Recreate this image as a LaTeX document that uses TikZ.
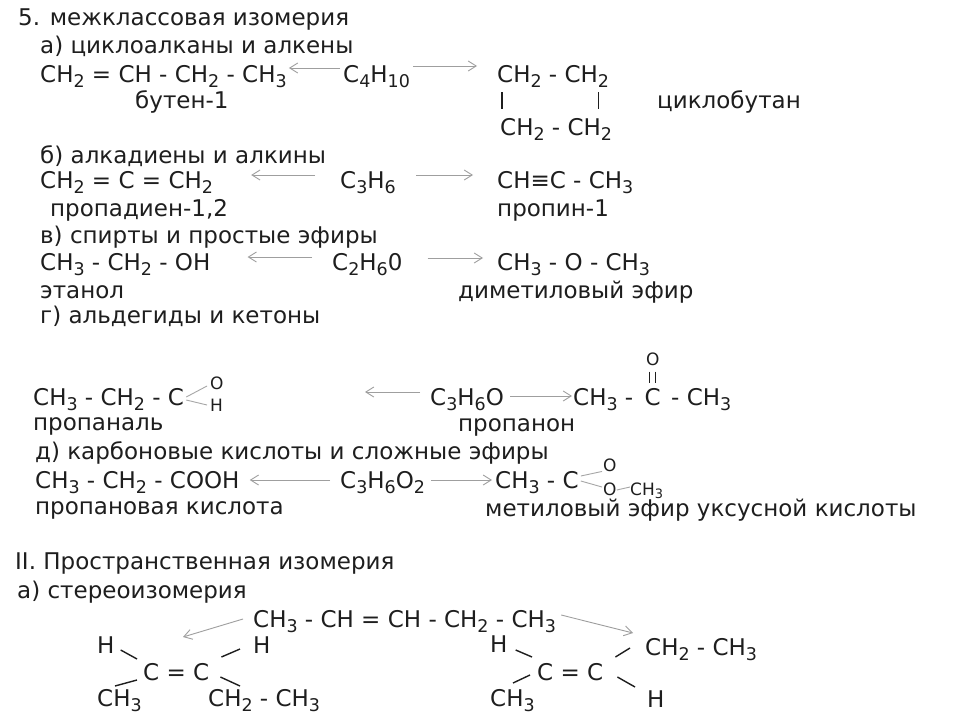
\documentclass[tikz,border=0pt]{standalone}
\usepackage{fontspec}
\setmainfont{DejaVu Sans}
\usetikzlibrary{arrows.meta,positioning}
\definecolor{ink}{HTML}{1E1E1E}
\newcommand{\dn}[1]{\raisebox{-0.23em}{\scalebox{0.76}{#1}}}

\begin{document}
\begin{tikzpicture}[x=1pt,y=-1pt,
		txt/.style={anchor=base west, inner sep=0pt, text=ink, font=\fontsize{23}{27}\selectfont},
		sm/.style={txt, font=\fontsize{17}{20}\selectfont},
		arr/.style={draw=gray!75, line width=0.9pt, -{Straight Barb[length=8pt,width=10pt]}},
		bond/.style={draw=ink, line width=1.4pt}]

	\fill[white] (0,0) rectangle (960,720);
	\useasboundingbox (0,0) rectangle (960,720);

	\node[txt] (hdr) at (18,25) {5. межклассовая изомерия};
	\node[txt] (seca) at (40,53) {а) циклоалканы и алкены};
	\node[txt] (butf) at (40,82) {CH\dn{2} = CH - CH\dn{2} - CH\dn{3}};
	\node[txt] (c4h10) at (343,82) {C\dn{4}H\dn{10}};
	\node[txt] (cb1) at (497,82) {CH\dn{2} - CH\dn{2}};
	\node[txt] (cb2) at (500,135) {CH\dn{2} - CH\dn{2}};
	\node[txt] (butn) at (135,108) {бутен-1};
	\node[txt] (cbn) at (657,108) {циклобутан};

	\draw[arr] ([xshift=-3pt,yshift=14pt]c4h10.base west) -- ([xshift=2pt,yshift=14pt]butf.base east);
	\draw[arr] ([xshift=3pt,yshift=16pt]c4h10.base east) -- ([xshift=-20pt,yshift=16pt]cb1.base west);
	\draw[bond, line width=1.1pt, shorten <=5pt, shorten >=9pt] ([xshift=5pt]cb1.south west) -- ([xshift=5pt]cb1.south west |- cb2.north);
	\draw[bond, line width=1.1pt, shorten <=5pt, shorten >=9pt] ([xshift=-11pt]cb1.south east) -- ([xshift=-11pt]cb1.south east |- cb2.north);

	\node[txt] (secb) at (40,163) {б) алкадиены и алкины};
	\node[txt] (pdf) at (40,188) {CH\dn{2} = C = CH\dn{2}};
	\node[txt] (c3h6) at (340,188) {C\dn{3}H\dn{6}};
	\node[txt] (pyf) at (497,188) {CH≡C - CH\dn{3}};
	\node[txt] (pdn) at (50,216) {пропадиен-1,2};
	\node[txt] (pyn) at (497,216) {пропин-1};

	\draw[arr] ([xshift=-25pt,yshift=13pt]c3h6.base west) -- ([xshift=38pt,yshift=13pt]pdf.base east);
	\draw[arr] ([xshift=20pt,yshift=13pt]c3h6.base east) -- ([xshift=-24pt,yshift=13pt]pyf.base west);

	\node[txt] (secv) at (40,243) {в) спирты и простые эфиры};
	\node[txt] (etf) at (40,270) {CH\dn{3} - CH\dn{2} - OH};
	\node[txt] (c2h6o) at (332,270) {C\dn{2}H\dn{6}0};
	\node[txt] (dmf) at (497,270) {CH\dn{3} - O - CH\dn{3}};
	\node[txt] (etn) at (40,298) {этанол};
	\node[txt] (dmn) at (458,298) {диметиловый эфир};

	\draw[arr] ([xshift=-20pt,yshift=13pt]c2h6o.base west) -- ([xshift=37pt,yshift=13pt]etf.base east);
	\draw[arr] ([xshift=25pt,yshift=12pt]c2h6o.base east) -- ([xshift=-14pt,yshift=12pt]dmf.base west);

	\node[txt] (secg) at (40,323) {г) альдегиды и кетоны};
	\node[txt] (alf) at (33,405) {CH\dn{3} - CH\dn{2} - C};
	\node[sm] (alo) at (210,389) {O};
	\node[sm] (alh) at (210,411) {H};
	\node[txt] (c3h6o) at (430,405) {C\dn{3}H\dn{6}O};
	\node[txt] (ketl) at (573,405) {CH\dn{3} -};
	\node[txt] (ketc) [base right=11pt of ketl] {C};
	\node[txt] (ketr) [base right=10pt of ketc] {- CH\dn{3}};
	\node[sm, anchor=south] (keto) [above=22pt of ketc] {O};
	\node[txt] (aln) at (33,430) {пропаналь};
	\node[txt] (ktn) at (458,431) {пропанон};
	\coordinate (alend) at (365,392);

	\draw[bond, draw=gray!70, line width=0.9pt] ([xshift=2pt,yshift=8pt]alf.base east) -- ([xshift=-3pt,yshift=3pt]alo.base west);
	\draw[bond, draw=gray!70, line width=0.9pt] ([xshift=2pt,yshift=5pt]alf.base east) -- ([xshift=-3pt,yshift=6pt]alh.base west);
	\draw[bond, line width=1.1pt, shorten <=6pt, shorten >=5pt] ([xshift=-3pt]keto.south) -- ([xshift=-3pt]ketc.north);
	\draw[bond, line width=1.1pt, shorten <=6pt, shorten >=5pt] ([xshift=3pt]keto.south) -- ([xshift=3pt]ketc.north);
	\draw[arr] ([xshift=-10pt,yshift=13pt]c3h6o.base west) -- (alend);
	\draw[arr] ([xshift=6pt,yshift=9pt]c3h6o.base east) -- ([xshift=-1pt,yshift=9pt]ketl.base west);

	\node[txt] (secd) at (35,459) {д) карбоновые кислоты и сложные эфиры};
	\node[txt] (acf) at (35,488) {CH\dn{3} - CH\dn{2} - COOH};
	\node[txt] (c3h6o2) at (340,488) {C\dn{3}H\dn{6}O\dn{2}};
	\node[txt] (esf) at (495,488) {CH\dn{3} - C};
	\node[sm] (eso1) at (603,471) {O};
	\node[sm] (eso2) at (603,495) {O};
	\node[sm] (esme) at (630,495) {CH\dn{3}};
	\node[txt] (acn) at (35,514) {пропановая кислота};
	\node[txt] (esn) at (485,516) {метиловый эфир уксусной кислоты};

	\draw[arr] ([xshift=-10pt,yshift=8pt]c3h6o2.base west) -- ([xshift=10pt,yshift=8pt]acf.base east);
	\draw[arr] ([xshift=6pt,yshift=8pt]c3h6o2.base east) -- ([xshift=-3pt,yshift=8pt]esf.base west);
	\draw[bond, draw=gray!70, line width=0.9pt] ([xshift=2pt,yshift=12pt]esf.base east) -- ([xshift=-1pt]eso1.south west);
	\draw[bond, draw=gray!70, line width=0.9pt] ([xshift=2pt,yshift=7pt]esf.base east) -- ([xshift=-1pt,yshift=8pt]eso2.base west);
	\draw[bond, draw=gray!70, line width=0.9pt] ([yshift=5pt]eso2.base east) -- ([yshift=8pt]esme.base west);

	\node[txt] (secii) at (15,569) {II. Пространственная изомерия};
	\node[txt] (secs) at (17,598) {а) стереоизомерия};
	\node[txt] (ptf) at (253,627) {CH\dn{3} - CH = CH - CH\dn{2} - CH\dn{3}};
	\coordinate (cisend) at (183,637);
	\coordinate (trend) at (633,633);

	\draw[arr] ([xshift=-10pt,yshift=8pt]ptf.base west) -- (cisend);
	\draw[arr] ([xshift=5pt,yshift=12pt]ptf.base east) -- (trend);

	\node[txt] (lh1) at (97,653) {H};
	\node[txt] (lh2) at (253,653) {H};
	\node[txt] (lcc) at (143,680) {C = C};
	\node[txt] (lme) at (97,706) {CH\dn{3}};
	\node[txt] (let) at (208,706) {CH\dn{2} - CH\dn{3}};

	\draw[bond] ([xshift=6pt,yshift=3pt]lh1.base east) -- ([xshift=-6pt,yshift=21pt]lcc.base west);
	\draw[bond] ([xshift=12pt,yshift=23pt]lcc.base east) -- ([xshift=-13pt,yshift=4pt]lh2.base west);
	\draw[bond] ([xshift=18pt,yshift=20pt]lme.base west) -- ([xshift=-6pt]lcc.base west);
	\draw[bond] ([xshift=11pt,yshift=3pt]lcc.base east) -- ([xshift=32pt,yshift=20pt]let.base west);

	\node[txt] (rh1) at (490,652) {H};
	\node[txt] (rcc) at (537,680) {C = C};
	\node[txt] (ret) at (645,655) {CH\dn{2} - CH\dn{3}};
	\node[txt] (rme) at (490,706) {CH\dn{3}};
	\node[txt] (rh2) at (647,707) {H};

	\draw[bond] ([xshift=8pt,yshift=2pt]rh1.base east) -- ([xshift=-5pt,yshift=23pt]rcc.base west);
	\draw[bond] ([xshift=12pt,yshift=23pt]rcc.base east) -- ([xshift=-15pt,yshift=7pt]ret.base west);
	\draw[bond] ([xshift=23pt,yshift=23pt]rme.base west) -- ([xshift=-7pt,yshift=5pt]rcc.base west);
	\draw[bond] ([xshift=14pt,yshift=3pt]rcc.base east) -- ([xshift=-12pt,yshift=20pt]rh2.base west);
\end{tikzpicture}
\end{document}
